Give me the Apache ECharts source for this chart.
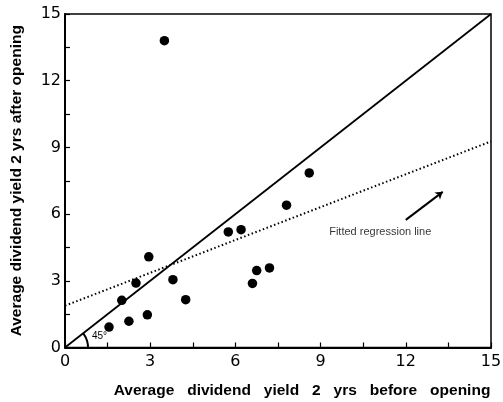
<!DOCTYPE html>
<html>
<head>
<meta charset="utf-8">
<script src="https://cdn.jsdelivr.net/npm/echarts@6/dist/echarts.min.js"></script>
<style>
html,body{margin:0;padding:0;background:#fff;}
#chart{width:503px;height:402px;}
</style>
</head>
<body>
<div id="chart"></div>
<script>
// ---- data ----
const xBefore = [3.5, 8.6, 7.8, 5.75, 6.2, 2.95, 3.8, 2.5, 2.0, 4.25, 2.9, 2.25, 1.55, 6.6, 6.75, 7.2];
const yAfter  = [13.8, 7.85, 6.4, 5.2, 5.3, 4.08, 3.05, 2.9, 2.12, 2.15, 1.47, 1.18, 0.92, 2.88, 3.46, 3.58];
const lineX = [0, 15];
const diagonalY = [0, 15];
const regressionY = [1.88, 9.27];
const arrowFrom = [12.0, 5.74];
const arrowTo = [13.3, 7.0];
const annotationPos = [11.1, 5.2];
const annotationText = 'Fitted regression line';
const angleText = '45°';
const tickValues = [0, 3, 6, 9, 12, 15];
const xName = 'Average   dividend   yield   2   yrs   before   opening';
const yName = 'Average dividend yield 2 yrs after opening';

const chart = echarts.init(document.getElementById('chart'), null, {renderer: 'canvas'});
const font = 'Liberation Sans, Arial, Helvetica, sans-serif';
const tickFont = 'DejaVu Sans, Liberation Sans, sans-serif';

function axisCommon() {
  return {
    type: 'value',
    min: tickValues[0],
    max: tickValues[tickValues.length - 1],
    interval: 3,
    axisLine: {show: true, lineStyle: {color: '#000', width: 2}},
    axisTick: {show: true, inside: true, length: 5, lineStyle: {color: '#000', width: 1.2}},
    minorTick: {show: true, splitNumber: 2, length: 5, lineStyle: {color: '#000', width: 1.2}},
    splitLine: {show: false},
    axisLabel: {color: '#000', fontFamily: tickFont, fontSize: 16},
  };
}

const option = {
  backgroundColor: '#fff',
  animation: false,
  grid: {
    left: 65, right: 12, top: 14, bottom: 54.5,
    containLabel: false,
    outerBoundsMode: 'none',
    show: true, borderColor: '#000', borderWidth: 1.5, backgroundColor: 'transparent'
  },
  xAxis: Object.assign(axisCommon(), {
    name: xName,
    nameLocation: 'middle',
    nameGap: 35,
    nameTextStyle: {color: '#000', fontFamily: font, fontWeight: 'bold', fontSize: 15.5, padding: [0, 0, 0, 48]},
    axisLabel: {color: '#000', fontFamily: tickFont, fontSize: 16, margin: 6}
  }),
  yAxis: Object.assign(axisCommon(), {
    name: yName,
    nameLocation: 'middle',
    nameGap: 40,
    nameTextStyle: {color: '#000', fontFamily: font, fontWeight: 'bold', fontSize: 15.5},
    axisLabel: {color: '#000', fontFamily: tickFont, fontSize: 16, margin: 4}
  }),
  series: [
    {
      type: 'line',
      data: lineX.map((x, i) => [x, diagonalY[i]]),
      symbol: 'none',
      lineStyle: {color: '#000', width: 1.8},
      z: 3
    },
    {
      type: 'line',
      data: lineX.map((x, i) => [x, regressionY[i]]),
      symbol: 'none',
      lineStyle: {color: '#000', width: 2, type: [1.5, 2.5]},
      z: 3
    },
    {
      type: 'scatter',
      data: xBefore.map((x, i) => [x, yAfter[i]]),
      symbol: 'circle',
      symbolSize: 9.5,
      itemStyle: {color: '#000', opacity: 1},
      z: 5
    },
    {
      type: 'lines',
      coordinateSystem: 'cartesian2d',
      data: [{coords: [arrowFrom, arrowTo]}],
      symbol: ['none', 'arrow'],
      symbolSize: 7,
      lineStyle: {color: '#000', width: 2, opacity: 1},
      z: 4
    },
    {
      type: 'scatter',
      data: [annotationPos],
      symbolSize: 0,
      label: {
        show: true, position: 'inside',
        formatter: annotationText,
        color: '#000', fontFamily: font, fontSize: 11
      },
      z: 6
    },
    {
      type: 'custom',
      data: [[lineX[0], diagonalY[0]]],
      renderItem: function (params, api) {
        const o = api.coord([api.value(0), api.value(1)]);
        const p = api.coord([lineX[1], diagonalY[1]]);
        const ang = Math.atan2(p[1] - o[1], p[0] - o[0]);
        const r = 23;
        const pts = [];
        for (let k = 0; k <= 24; k++) {
          const a = ang * (1 - k / 24);
          pts.push([o[0] + r * Math.cos(a), o[1] + r * Math.sin(a)]);
        }
        return {
          type: 'group',
          children: [
            {
              type: 'polyline',
              shape: {points: pts},
              style: {stroke: '#000', lineWidth: 2, fill: null}
            },
            {
              type: 'text',
              x: o[0] + 27, y: o[1] - 11,
              style: {text: angleText, fill: '#000', font: '10px ' + font, verticalAlign: 'middle', align: 'left'}
            }
          ]
        };
      },
      z: 6
    }
  ]
};
chart.setOption(option);
</script>
</body>
</html>
